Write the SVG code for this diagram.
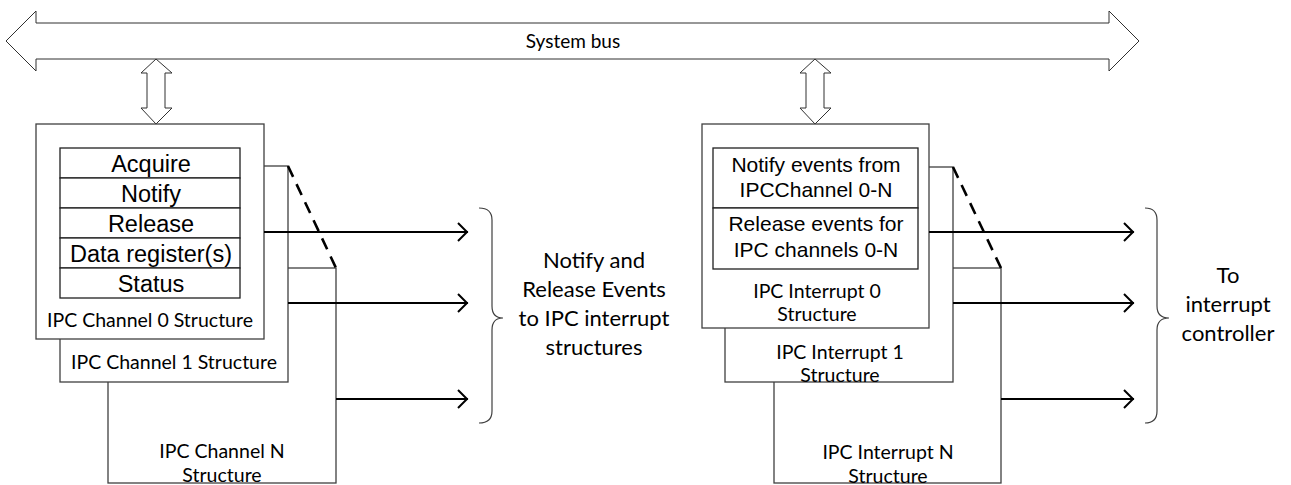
<svg xmlns="http://www.w3.org/2000/svg" width="1291" height="485" viewBox="0 0 1291 485">
<style>
.bg{fill:#fff}
.box{fill:#fff;stroke:#404040;stroke-width:1.3}
.cell{fill:#fff;stroke:#202020;stroke-width:1.3}
.hollow{fill:#fff;stroke:#303030;stroke-width:1}
.wire{fill:none;stroke:#000;stroke-width:2}
.dash{fill:none;stroke:#000;stroke-width:2.6;stroke-dasharray:12,8}
.brace{fill:none;stroke:#404040;stroke-width:1.2}
.t{font-family:"Liberation Sans",Arial,sans-serif;fill:#000;text-anchor:middle}
.c{font-family:Lato,"Open Sans",sans-serif;fill:#000;text-anchor:middle}
.lbl{font-size:19.5px}
.big{font-size:22px}
</style>
<defs>
<marker id="arr" markerUnits="userSpaceOnUse" markerWidth="14" markerHeight="22" refX="11" refY="10" orient="auto">
<path d="M1,1 L10,10 L1,19" fill="none" stroke="#000" stroke-width="2"/>
</marker>
</defs>
<rect class="bg" x="0" y="0" width="1291" height="485"/>

<g id="system-bus">
<polygon class="hollow" points="6,41 36,11 36,23 1109,23 1109,11 1139,41 1109,71 1109,59 36,59 36,71"/>
<text class="c" x="573" y="48" font-size="19">System bus</text>
</g>

<g id="bus-link-left">
<polygon class="hollow" points="156,59 172,73 165,73 165,108 172,108 156,124 141,108 147,108 147,73 141,73"/>
</g>
<g id="bus-link-right">
<polygon class="hollow" points="815,59 831,73 824,73 824,108 831,108 815,124 800,108 806,108 806,73 800,73"/>
</g>

<g id="ipc-channel-n">
<rect class="box" x="108" y="268" width="228" height="215"/>
<text class="c lbl" x="222" y="458">IPC Channel N</text>
<text class="c lbl" x="222" y="482">Structure</text>
</g>
<g id="ipc-channel-1">
<rect class="box" x="60" y="166" width="228" height="216"/>
<text class="c lbl" x="174" y="369">IPC Channel 1 Structure</text>
</g>
<g id="ipc-channel-0">
<rect class="box" x="36" y="124" width="228" height="215"/>
<rect class="cell" x="60" y="148" width="180" height="30"/>
<rect class="cell" x="60" y="178" width="180" height="30"/>
<rect class="cell" x="60" y="208" width="180" height="30"/>
<rect class="cell" x="60" y="238" width="180" height="30"/>
<rect class="cell" x="60" y="268" width="180" height="30"/>
<text class="t" x="151" y="172" font-size="23.5">Acquire</text>
<text class="t" x="151" y="202" font-size="23.5">Notify</text>
<text class="t" x="151" y="232" font-size="23.5">Release</text>
<text class="t" x="151" y="262" font-size="23.5">Data register(s)</text>
<text class="t" x="151" y="292" font-size="23.5">Status</text>
<text class="c lbl" x="150" y="327">IPC Channel 0 Structure</text>
</g>

<g id="ipc-interrupt-n">
<rect class="box" x="774" y="268" width="227" height="215"/>
<text class="c lbl" x="888" y="459">IPC Interrupt N</text>
<text class="c lbl" x="888" y="483">Structure</text>
</g>
<g id="ipc-interrupt-1">
<rect class="box" x="725" y="167" width="228" height="215"/>
<text class="c lbl" x="840" y="359">IPC Interrupt 1</text>
<text class="c lbl" x="840" y="382">Structure</text>
</g>
<g id="ipc-interrupt-0">
<rect class="box" x="702" y="124" width="227" height="204"/>
<rect class="cell" x="713" y="148" width="205" height="60"/>
<rect class="cell" x="713" y="208" width="205" height="61"/>
<text class="t" x="816" y="172" font-size="21">Notify events from</text>
<text class="t" x="816" y="197" font-size="21">IPCChannel 0-N</text>
<text class="t" x="816" y="231" font-size="21">Release events for</text>
<text class="t" x="816" y="257" font-size="21">IPC channels 0-N</text>
<text class="c lbl" x="817" y="298">IPC Interrupt 0</text>
<text class="c lbl" x="817" y="321">Structure</text>
</g>

<g id="connectors">
<line class="dash" x1="288" y1="166" x2="336" y2="268"/>
<line class="dash" x1="953" y1="167" x2="1001" y2="268"/>
<line class="wire" x1="264" y1="232" x2="468" y2="232" marker-end="url(#arr)"/>
<line class="wire" x1="288" y1="303" x2="468" y2="303" marker-end="url(#arr)"/>
<line class="wire" x1="336" y1="399" x2="468" y2="399" marker-end="url(#arr)"/>
<line class="wire" x1="929" y1="232" x2="1134" y2="232" marker-end="url(#arr)"/>
<line class="wire" x1="953" y1="303" x2="1134" y2="303" marker-end="url(#arr)"/>
<line class="wire" x1="1001" y1="399" x2="1134" y2="399" marker-end="url(#arr)"/>
<path class="brace" d="M479,208 Q492,208 492,220 L492,306 Q492,318 503,318 Q492,318 492,330 L492,411 Q492,423 479,423"/>
<path class="brace" d="M1145,208 Q1157,208 1157,220 L1157,306 Q1157,318 1169,318 Q1157,318 1157,330 L1157,411 Q1157,423 1145,423"/>
</g>

<g id="label-events">
<text class="c big" x="594" y="268">Notify and</text>
<text class="c big" x="594" y="297">Release Events</text>
<text class="c big" x="594" y="326">to IPC interrupt</text>
<text class="c big" x="594" y="355">structures</text>
</g>
<g id="label-controller">
<text class="c big" x="1228" y="283">To</text>
<text class="c big" x="1228" y="312">interrupt</text>
<text class="c big" x="1228" y="341">controller</text>
</g>
</svg>
